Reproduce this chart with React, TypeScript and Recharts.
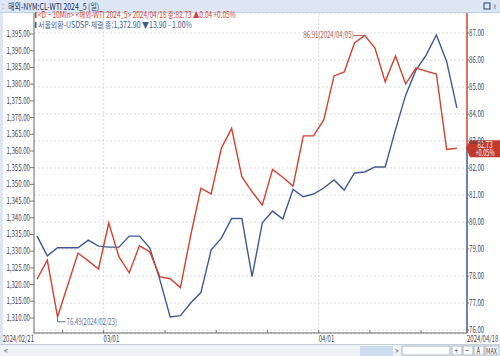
import { LineChart, Line, XAxis, YAxis, CartesianGrid, ReferenceLine, ReferenceDot } from 'recharts'

const dates = [
  '2024/02/21', '2024/02/22', '2024/02/23', '2024/02/26', '2024/02/27', '2024/02/28', '2024/02/29',
  '2024/03/01', '2024/03/04', '2024/03/05', '2024/03/06', '2024/03/07', '2024/03/08', '2024/03/11',
  '2024/03/12', '2024/03/13', '2024/03/14', '2024/03/15', '2024/03/18', '2024/03/19', '2024/03/20',
  '2024/03/21', '2024/03/22', '2024/03/25', '2024/03/26', '2024/03/27', '2024/03/28', '2024/03/29',
  '2024/04/01', '2024/04/02', '2024/04/03', '2024/04/04', '2024/04/05', '2024/04/08', '2024/04/09',
  '2024/04/10', '2024/04/11', '2024/04/12', '2024/04/15', '2024/04/16', '2024/04/17', '2024/04/18',
]

// WTI (right axis)
const wti = [
  77.89, 78.59, 76.49, 77.67, 78.85, 78.56, 78.26, 79.96, 78.71, 78.12, 79.12, 78.9, 77.97, 77.9,
  77.57, 79.5, 81.25, 81.04, 82.73, 83.47, 81.68, 81.12, 80.63, 81.95, 81.66, 81.33, 83.19, 83.19,
  83.78, 85.41, 85.56, 86.63, 86.91, 86.44, 85.19, 86.15, 85.11, 85.7, 85.59, 85.48, 82.69, 82.73,
]

// 서울외환 USD (left axis)
const usdkrw = [
  1334.5, 1328.6, 1331.0, 1331.0, 1331.0, 1333.3, 1331.5, 1331.2, 1331.2, 1334.5, 1334.5, 1331.0,
  1321.4, 1310.3, 1310.7, 1314.5, 1317.6, 1330.3, 1333.9, 1339.8, 1339.8, 1322.4, 1338.5, 1342.0,
  1339.6, 1348.5, 1346.3, 1347.1, 1348.9, 1351.3, 1348.3, 1353.4, 1353.7, 1355.2, 1355.2, 1366.3,
  1376.7, 1384.2, 1388.7, 1394.7, 1386.8, 1372.9,
]

const leftTicks = [1310, 1315, 1320, 1325, 1330, 1335, 1340, 1345, 1350, 1355, 1360, 1365, 1370, 1375, 1380, 1385, 1390, 1395]
const rightTicks = [76, 77, 78, 79, 80, 81, 82, 83, 84, 85, 86, 87]
const monthTicks = ['2024/03/01', '2024/04/01']
const weekTicks = ['2024/02/26', '2024/03/11', '2024/03/18', '2024/03/25', '2024/04/08', '2024/04/15']

const RED = '#d5412f'
const BLUE = '#3d5b92'
const AXIS_TEXT = '#3c4356'
const FONT = "'Noto Sans CJK KR', 'DejaVu Sans', sans-serif"

const X_MIN = -0.3
const X_MAX = 41.99

const data = dates.map((d, i) => ({ i, date: d, wti: wti[i], usd: usdkrw[i] }))
const pos = (d: string) => dates.indexOf(d) - 0.5
const monthPos = monthTicks.map(pos)
const weekPos = weekTicks.map(pos)

const last = dates.length - 1
const wtiChg = wti[last] - wti[last - 1]
const usdChg = usdkrw[last] - usdkrw[last - 1]
const fmt = (v: number) => v.toLocaleString('en-US', { minimumFractionDigits: 2, maximumFractionDigits: 2 })

let maxI = 0
let minI = 0
wti.forEach((v, i) => {
  if (v > wti[maxI]) maxI = i
  if (v < wti[minI]) minI = i
})

// rough width of the narrow HTS bitmap font
const textW = (s: string) =>
  [...s].reduce((w, c) => {
    if (/[0-9]/.test(c)) return w + 3.4
    if (c === ',' || c === '.') return w + 1.6
    if (c === '/' || c === '(' || c === ')' || c === ':') return w + 2.0
    if (/[가-힣]/.test(c)) return w + 8.2
    if (c === ' ') return w + 2.0
    return w + 3.6
  }, 0)

const Tiny = ({ x, y, text, fill, anchor = 'start', size = 8.5 }: {
  x: number; y: number; text: string; fill: string; anchor?: 'start' | 'end' | 'middle'; size?: number
}) => (
  <text
    x={x}
    y={y}
    fill={fill}
    fontSize={size}
    fontFamily={FONT}
    textAnchor={anchor}
    textLength={textW(text)}
    lengthAdjust="spacingAndGlyphs"
  >
    {text}
  </text>
)

const XTick = (props: any) => {
  const { x, y, payload } = props
  const v = payload.value as number
  if (v === X_MIN) return <Tiny x={x} y={y + 9} text={dates[0]} fill={AXIS_TEXT} anchor="end" />
  if (v === X_MAX) return <Tiny x={x} y={y + 9} text={dates[last]} fill={AXIS_TEXT} />
  const mi = monthPos.indexOf(v)
  return (
    <g>
      <line x1={x} x2={x} y1={y - 3} y2={y} stroke="#777" />
      {mi >= 0 && <Tiny x={x} y={y + 9} text={monthTicks[mi].slice(5)} fill={AXIS_TEXT} />}
    </g>
  )
}

const LeftTick = (props: any) => {
  const { x, y, payload } = props
  return (
    <g>
      <line x1={x - 4} x2={x} y1={y} y2={y} stroke="#777" />
      <Tiny x={x - 4} y={y + 3} text={fmt(payload.value)} fill={AXIS_TEXT} anchor="end" />
    </g>
  )
}

const RightTick = (props: any) => {
  const { x, y, payload } = props
  return (
    <g>
      <line x1={x} x2={x + 2} y1={y} y2={y} stroke="#777" />
      <Tiny x={x + 2} y={y + 3} text={fmt(payload.value)} fill={AXIS_TEXT} />
    </g>
  )
}

const MaxMark = (props: any) => {
  const { cx, cy } = props
  const label = `${fmt(wti[maxI])}(${dates[maxI]})`
  return (
    <g>
      <line x1={cx - 11} x2={cx} y1={cy} y2={cy} stroke="#b55a4c" />
      <Tiny x={cx - 11} y={cy + 3} text={label} fill="#b55a4c" anchor="end" />
    </g>
  )
}

const MinMark = (props: any) => {
  const { cx, cy } = props
  const label = `${fmt(wti[minI])}(${dates[minI]})`
  return (
    <g>
      <polyline points={`${cx},${cy} ${cx},${cy + 5} ${cx + 8},${cy + 5}`} fill="none" stroke="#5b6f98" />
      <Tiny x={cx + 9} y={cy + 8} text={label} fill="#5b6f98" />
    </g>
  )
}

const LastBox = (props: any) => {
  const { viewBox } = props
  const x = viewBox.x + viewBox.width
  const y = viewBox.y
  return (
    <g>
      <polygon points={`${x - 1},${y} ${x + 3},${y - 8} ${x + 33},${y - 8} ${x + 33},${y + 9} ${x + 3},${y + 9}`} fill="#c23a2c" />
      <Tiny x={x + 18} y={y - 0.5} text={fmt(wti[last])} fill="#fff" anchor="middle" />
      <Tiny x={x + 18} y={y + 7.5} text={`${wtiChg >= 0 ? '+' : ''}${((wtiChg / wti[last - 1]) * 100).toFixed(2)}%`} fill="#fff" anchor="middle" />
    </g>
  )
}

const line1 = `<D − 10Min> <해외-WTI 2024_5> ${dates[last]} 종:${fmt(wti[last])} ▲${fmt(Math.abs(wtiChg))} +${((wtiChg / wti[last - 1]) * 100).toFixed(2)}%`
const line2 = `서울외환-USDSP-체결 종:${fmt(usdkrw[last])} ▼${fmt(Math.abs(usdChg))} - ${((Math.abs(usdChg) / usdkrw[last - 1]) * 100).toFixed(2)}%`

export default function App() {
  return (
    <div style={{ position: 'fixed', left: 0, top: 0, width: 500, height: 356, background: '#fff', overflow: 'hidden', fontFamily: FONT }}>
      <div style={{ position: 'absolute', left: 0, top: 0, width: 500, height: 12, background: '#dde7f3', borderBottom: '1px solid #bccfe4' }} />
      <div style={{ position: 'absolute', left: 0, top: 13, width: 3, height: 331, background: '#dde7f3' }} />
      <div style={{ position: 'absolute', left: 0, top: 0 }}>
        <LineChart width={500} height={345} data={data} margin={{ top: 13, right: 0, bottom: 0, left: 0 }}>
          <CartesianGrid yAxisId="right" vertical={false} stroke="#d9d9d9" strokeDasharray="2 2" />
          <XAxis
            dataKey="i"
            type="number"
            domain={[X_MIN, X_MAX]}
            ticks={[X_MIN, ...weekPos, ...monthPos, X_MAX]}
            interval={0}
            height={12}
            tickSize={0}
            tickMargin={0}
            tick={<XTick />}
            axisLine={{ stroke: '#666' }}
          />
          <YAxis
            yAxisId="left"
            orientation="left"
            width={34}
            domain={[1305.5, 1401.3]}
            ticks={leftTicks}
            interval={0}
            tickSize={0}
            tickMargin={0}
            tick={<LeftTick />}
            axisLine={{ stroke: '#666' }}
          />
          <YAxis
            yAxisId="right"
            orientation="right"
            width={33}
            domain={[75.89, 87.74]}
            ticks={rightTicks}
            interval={0}
            tickSize={0}
            tickMargin={0}
            tick={<RightTick />}
            axisLine={false}
          />
          {monthPos.map((p) => (
            <ReferenceLine key={p} yAxisId="right" x={p} stroke="#d9d9d9" strokeDasharray="2 2" />
          ))}
          <ReferenceLine yAxisId="right" segment={[{ x: X_MAX, y: 87.74 }, { x: X_MAX, y: wti[last] }]} stroke={RED} strokeWidth={1.5} />
          <ReferenceLine yAxisId="right" segment={[{ x: X_MAX, y: wti[last] }, { x: X_MAX, y: 75.89 }]} stroke={BLUE} strokeWidth={1.5} />
          <Line yAxisId="left" dataKey="usd" stroke={BLUE} strokeWidth={1.4} dot={false} isAnimationActive={false} />
          <Line yAxisId="right" dataKey="wti" stroke={RED} strokeWidth={1.4} dot={false} isAnimationActive={false} />
          <ReferenceDot yAxisId="right" x={maxI} y={wti[maxI]} shape={<MaxMark />} />
          <ReferenceDot yAxisId="right" x={minI} y={wti[minI]} shape={<MinMark />} />
          <ReferenceLine yAxisId="right" y={wti[last]} stroke="none" label={<LastBox />} />
        </LineChart>
      </div>
      <svg width={500} height={40} style={{ position: 'absolute', left: 0, top: 0, pointerEvents: 'none' }}>
        <Tiny x={2} y={9} text=":" fill="#7a8fae" />
        <Tiny x={8} y={9.5} text="해외-NYM:CL-WTI 2024_5 (일)" fill="#1e2f5e" size={9} />
        <rect x={484} y={3} width={6} height={6} fill="none" stroke="#2a3a60" />
        <Tiny x={493} y={9.5} text="×" fill="#2a3a60" size={9} />
        <rect x={35} y={12} width={1.5} height={6} fill={RED} />
        <Tiny x={38} y={18} text={line1} fill={RED} />
        <rect x={35} y={22} width={1.5} height={6} fill={BLUE} />
        <Tiny x={38} y={28} text={line2} fill={BLUE} />
      </svg>
      <div style={{ position: 'absolute', left: 0, top: 344, width: 500, height: 12, background: '#eef1f5', borderTop: '1px solid #c5ceda' }} />
      <svg width={500} height={12} style={{ position: 'absolute', left: 0, top: 345 }}>
        <Tiny x={4} y={9} text="<" fill="#666" />
        <rect x={360} y={1} width={33} height={10} fill="#cddcee" />
        <Tiny x={395} y={9} text=">" fill="#666" />
        <rect x={402} y={1} width={48} height={9} fill="#fff" stroke="#aab6c6" />
        <rect x={452} y={1} width={10} height={9} fill="#fff" stroke="#aab6c6" />
        <Tiny x={454.5} y={8.5} text="+" fill="#333" />
        <rect x={463} y={1} width={10} height={9} fill="#fff" stroke="#aab6c6" />
        <Tiny x={465.5} y={8.5} text="−" fill="#333" />
        <rect x={474} y={1} width={10} height={9} fill="#fff" stroke="#aab6c6" />
        <Tiny x={476.5} y={8.5} text="A" fill="#333" />
        <rect x={485} y={1} width={14} height={9} fill="#fff" stroke="#aab6c6" />
        <Tiny x={486} y={8.5} text="MAX" fill="#333" size={7} />
      </svg>
    </div>
  )
}
